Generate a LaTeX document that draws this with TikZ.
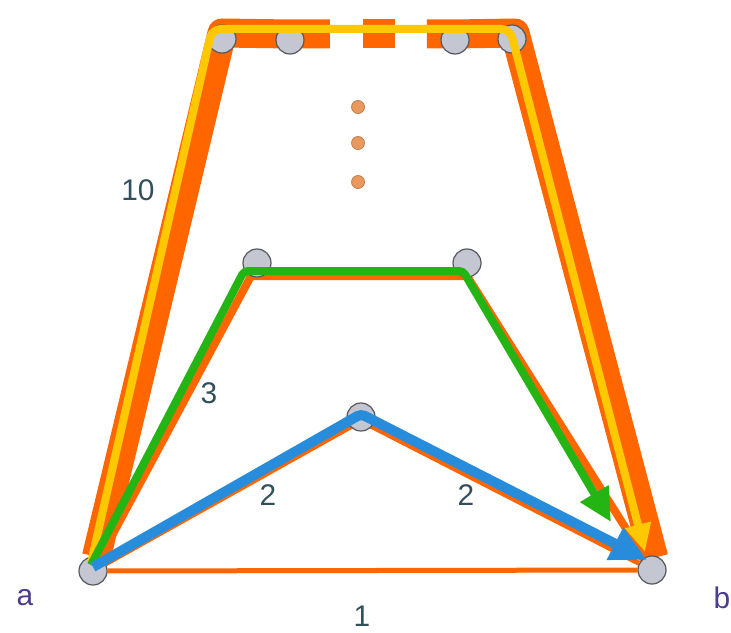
\documentclass[tikz,border=0pt]{standalone}
\usepackage{fontspec}
\setmainfont{Liberation Sans}
\usetikzlibrary{arrows.meta, calc, backgrounds}
\definecolor{corange}{RGB}{255,102,0}
\definecolor{cyellow}{RGB}{255,200,0}
\definecolor{cgreen}{RGB}{36,180,20}
\definecolor{cblue}{RGB}{40,140,220}
\definecolor{cnode}{RGB}{196,199,210}
\definecolor{cdot}{RGB}{234,152,92}
\definecolor{cweight}{RGB}{50,80,92}
\definecolor{cterm}{RGB}{76,60,140}

\begin{document}
\begin{tikzpicture}[
    vertex/.style={circle, draw=cnode!45!black, fill=cnode, line width=0.7pt, minimum size=0.56cm, inner sep=0pt},
    gap/.style={circle, draw=cdot!80!black, fill=cdot, line width=0.4pt, minimum size=0.26cm, inner sep=0pt},
    link/.style={draw=corange, line width=#1, line join=round},
    route/.style={draw=#1, line width=0.17cm, rounded corners=0.08cm, -{Triangle[length=0.66cm, width=0.62cm]}},
    weight/.style={text=cweight, font=\fontsize{17}{20}\selectfont},
    term/.style={text=cterm, font=\fontsize{17}{20}\selectfont},
]
\useasboundingbox (0,0) rectangle (14.62,12.64);

% vertices
\node[vertex] (a) at (1.86,1.22) {};
\node[vertex] (b) at (13.04,1.24) {};
\node[vertex] (m) at (7.22,4.30) {};
\node[vertex] (L) at (5.14,7.38) {};
\node[vertex] (R) at (9.34,7.38) {};
\node[vertex] (T1) at (4.44,11.86) {};
\node[vertex] (T2) at (5.80,11.84) {};
\node[vertex] (T3) at (9.10,11.84) {};
\node[vertex] (T4) at (10.24,11.86) {};

% omitted paths
\node[gap] (g1) at (7.16,10.50) {};
\node[gap] (g2) at (7.16,9.78) {};
\node[gap] (g3) at (7.16,9.00) {};

% graph edges, width by weight
\begin{scope}[on background layer]
\draw[link=0.1cm] (a) -- (b);
\draw[link=0.1cm] (a) -- ($(m)+(0,-0.08)$) -- (b);
\draw[link=0.16cm] (a) -- ($(L)+(-0.12,-0.26)$) -- ($(R)+(0,-0.26)$) -- (b);
\draw[link=0.58cm] (a) -- ($(T1)+(0,0.12)$) -- ($(T2)+(0,0.12)$) -- ($(T2)!0.242!(T3)+(0,0.12)$);
\draw[link=0.58cm] ($(T2)!0.442!(T3)+(0,0.12)$) -- ($(T2)!0.636!(T3)+(0,0.12)$);
\draw[link=0.58cm, shorten >=0.25cm] ($(T2)!0.83!(T3)+(0,0.12)$) -- ($(T3)+(0,0.12)$) -- ($(T4)+(0.06,0.12)$) -- ($(b)+(0.1,0)$);
\end{scope}

% shortest path candidates
\draw[route=cyellow, line width=0.16cm, rounded corners=0.18cm, -{Triangle[length=0.56cm, width=0.5cm]}]
    ($(a)+(-0.04,0.16)$) -- ($(T1)+(-0.2,0.2)$) -- ($(T4)+(-0.04,0.2)$) -- ($(b)+(-0.14,0.36)$);
\draw[route=cgreen, line width=0.16cm]
    ($(a)+(-0.04,0.12)$) -- ($(L)+(-0.26,-0.16)$) -- ($(R)+(-0.08,-0.16)$) -- ($(b)+(-0.82,0.96)$);
\draw[route=cblue, line width=0.2cm, -{Triangle[length=0.72cm, width=0.68cm]}]
    ($(a)+(0,0.08)$) -- ($(m)+(0,0.06)$) -- ($(b)+(-0.1,0.2)$);

% weights
\node[weight] (w10) at (2.76,8.84) {10};
\node[weight] (w3) at (4.18,4.78) {3};
\node[weight] (w2l) at (5.36,2.74) {2};
\node[weight] (w2r) at (9.32,2.74) {2};
\node[weight] (w1) at (7.24,0.32) {1};

% source and target
\node[term] (la) at (0.5,0.68) {a};
\node[term] (lb) at (14.44,0.68) {b};

\end{tikzpicture}
\end{document}
